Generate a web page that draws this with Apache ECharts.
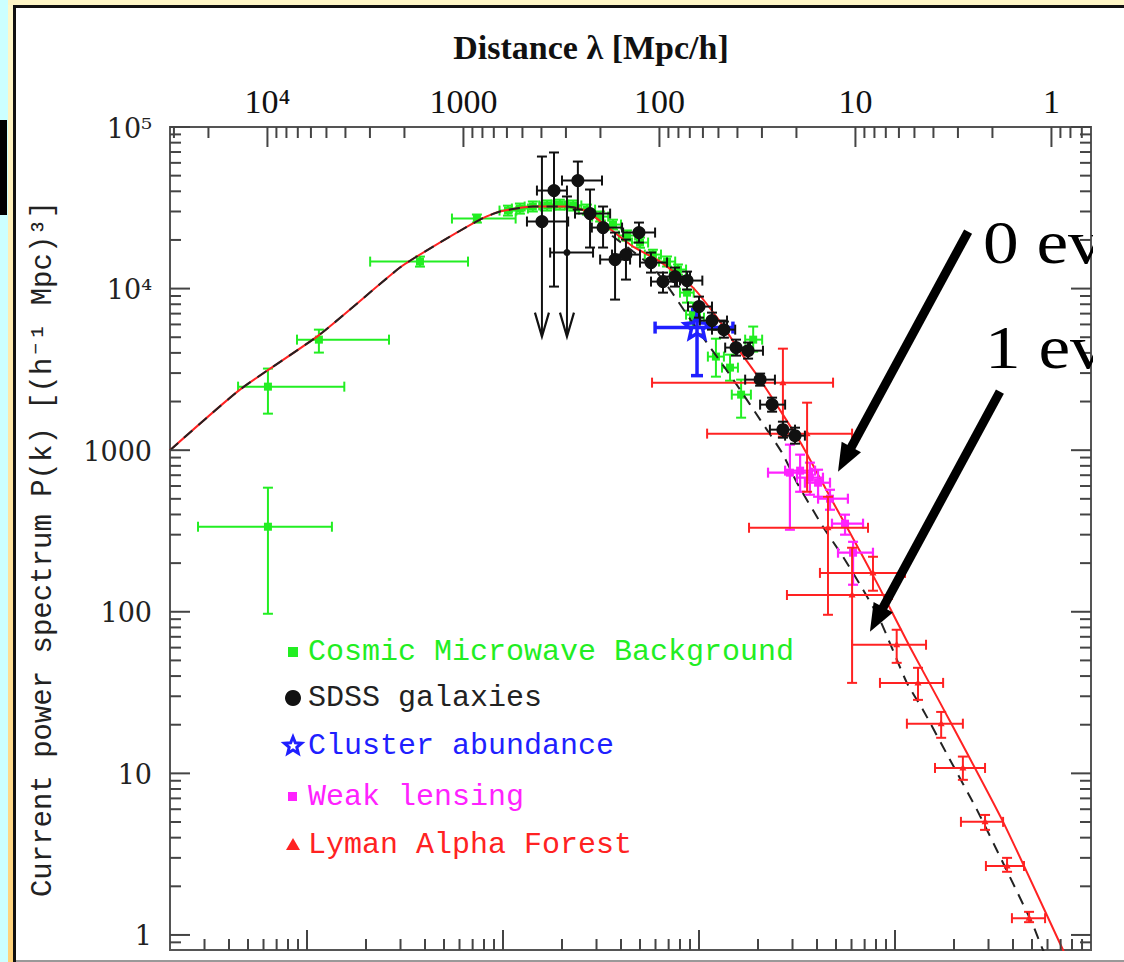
<!DOCTYPE html>
<html><head><meta charset="utf-8">
<script src="https://cdn.jsdelivr.net/npm/echarts@6/dist/echarts.min.js"></script>
<style>html,body{margin:0;padding:0;background:#fff;}#c{width:1124px;height:962px;}</style>
</head><body><div id="c"></div>
<script>
// ---------- axis ranges (k in h/Mpc, P in (Mpc/h)^3) ----------
const X_MIN = 2e-4, X_MAX = 10, Y_MIN = 0.807, Y_MAX = 1e5;
const TWO_PI = 2 * Math.PI;

// ---------- tick values / labels ----------
const kMajorTicks = [0.001, 0.01, 0.1, 1];
const kDecades = [1e-4, 1e-3, 1e-2, 1e-1, 1];
const minorMultipliers = [2, 3, 4, 5, 6, 7, 8, 9];
const lambdaMajorTicks = [10000, 1000, 100, 10, 1];
const lambdaTickLabels = ['10\u2074', '1000', '100', '10', '1'];
const lambdaDecades = [0.1, 1, 10, 100, 1000, 10000];
const pMajorTicks = [1, 10, 100, 1000, 10000, 100000];
const pTickLabels = ['1', '10', '100', '1000', '10\u2074', '10\u2075'];
const pDecades = [0.1, 1, 10, 100, 1000, 10000];

// ---------- model curves [k, P] ----------
const curve0eV = [
  [2.0e-4, 1000], [4.55e-4, 2370], [1.16e-3, 5190], [2.98e-3, 13490], [4.40e-3, 18200],
  [7.63e-3, 26740], [9.66e-3, 29980], [1.42e-2, 32200], [2.12e-2, 32200], [2.68e-2, 30000],
  [3.39e-2, 24200], [4.61e-2, 18200], [6.33e-2, 14700], [9.32e-2, 10140], [0.128, 6250],
  [0.162, 4074], [0.205, 2733], [0.268, 1660], [0.339, 1051], [0.466, 515], [0.589, 308],
  [0.809, 151], [1.19, 60.7], [1.70, 27.3], [3.56, 5.01], [7.20, 0.807], [8.29, 0.565]
];
const curve1eV = [
  [2.0e-4, 1000], [4.55e-4, 2370], [1.16e-3, 5190], [2.98e-3, 13490], [4.40e-3, 18200],
  [7.63e-3, 26740], [9.66e-3, 29980], [1.42e-2, 32200], [2.12e-2, 32200], [2.68e-2, 30000],
  [3.39e-2, 22540], [4.61e-2, 16950], [5.82e-2, 13490], [7.11e-2, 9860], [8.69e-2, 6900],
  [0.105, 4970], [0.133, 3340], [0.162, 2370], [0.205, 1545], [0.265, 965], [0.316, 629],
  [0.429, 336], [0.543, 219], [0.687, 137], [0.838, 89], [1.15, 36.3], [1.39, 24.7],
  [1.91, 12.1], [2.62, 5.94], [3.56, 2.79], [5.06, 1.15], [5.69, 0.807], [6.55, 0.607]
];

// ---------- data points [k, P, kLo, kHi, PLo, PHi] ----------
const cmbData = [
  [6.32e-4, 336, 2.78e-4, 1.34e-3, 97.2, 586],
  [6.32e-4, 2473, 4.45e-4, 1.55e-3, 1683, 3199],
  [1.15e-3, 4832, 8.89e-4, 2.62e-3, 4017, 5572],
  [3.77e-3, 14690, 2.10e-3, 6.63e-3, 13680, 15780],
  [7.36e-3, 27130, 5.49e-3, 1.16e-2, 25620, 28730],
  [0.0106, 30400, 0.0096, 0.0117, 28300, 32600],
  [0.0122, 31300, 0.0111, 0.0134, 29100, 33600],
  [0.0142, 32200, 0.0129, 0.0156, 30000, 34600],
  [0.0168, 32700, 0.0153, 0.0185, 30400, 35100],
  [0.0195, 33100, 0.0177, 0.0215, 30800, 35500],
  [0.0228, 32700, 0.0207, 0.0251, 30400, 35100],
  [0.0268, 30800, 0.0244, 0.0295, 28700, 33100],
  [0.0313, 27900, 0.0285, 0.0344, 26000, 30000],
  [0.0364, 24900, 0.0331, 0.0400, 23200, 26700],
  [0.0429, 21300, 0.0390, 0.0472, 19800, 22900],
  [0.0500, 19270, 0.0455, 0.0550, 17900, 20700],
  [0.0582, 16240, 0.0529, 0.0640, 15100, 17400],
  [0.0687, 14700, 0.0625, 0.0756, 13700, 15800],
  [0.0781, 13120, 0.0710, 0.0859, 12200, 14100],
  [0.0869, 9440, 0.0800, 0.0940, 8190, 10900],
  [0.0932, 6900, 0.0859, 0.101, 5821, 8190],
  [0.0977, 6610, 0.0900, 0.106, 5737, 7630],
  [0.122, 3795, 0.111, 0.134, 2851, 4898],
  [0.144, 3243, 0.131, 0.158, 2692, 3900],
  [0.189, 4832, 0.172, 0.210, 4074, 5821],
  [0.164, 2207, 0.147, 0.184, 1589, 2733]
];
const sdssData = [
  [0.0158, 26000, 0.01325, 0.0215, 5043, 65640],
  [0.0182, 40430, 0.0149, 0.0212, 10290, 69550],
  [0.0212, 16710, 0.0174, 0.0288, 5043, 37150],
  [0.0241, 46650, 0.0200, 0.0320, 30830, 61120],
  [0.0278, 29120, 0.0233, 0.0352, 17950, 41020],
  [0.0324, 23860, 0.0284, 0.0405, 17950, 32200],
  [0.0373, 15130, 0.0313, 0.0445, 8550, 22220],
  [0.0424, 16240, 0.0360, 0.0500, 11370, 20110],
  [0.0494, 22220, 0.0410, 0.0597, 19270, 25620],
  [0.0569, 14490, 0.0500, 0.0687, 12560, 16710],
  [0.0655, 11050, 0.0569, 0.0772, 9440, 12560],
  [0.0754, 11870, 0.0655, 0.0900, 10290, 13490],
  [0.0869, 11210, 0.0800, 0.104, 9860, 12740],
  [0.100, 7740, 0.0879, 0.1165, 6610, 8920],
  [0.1165, 6340, 0.101, 0.139, 5572, 7100],
  [0.134, 5572, 0.1165, 0.153, 4970, 6250],
  [0.1545, 4314, 0.136, 0.182, 3848, 4832],
  [0.178, 4130, 0.156, 0.212, 3688, 4634],
  [0.205, 2733, 0.172, 0.244, 2508, 2978],
  [0.236, 1914, 0.205, 0.275, 1731, 2114],
  [0.268, 1340, 0.230, 0.309, 1195, 1501],
  [0.309, 1230, 0.275, 0.347, 1097, 1378]
];
const sdssUpperLimit = [true, false, true, false, false, false, false, false, false, false, false,
  false, false, false, false, false, false, false, false, false, false, false];
const sdssSmallDot = [false, false, true, false, false, false, false, false, false, false, false,
  false, false, false, false, false, false, false, false, false, false, false];
const clusterData = [
  [0.0977, 5737, 0.0597, 0.149, 2893, 7413]
];
const lensingData = [
  [0.291, 726, 0.225, 0.377, 322, 1082],
  [0.328, 747, 0.275, 0.391, 553, 938],
  [0.368, 676, 0.316, 0.429, 530, 837],
  [0.405, 629, 0.347, 0.466, 515, 757],
  [0.466, 501, 0.405, 0.575, 428, 569],
  [0.556, 351, 0.477, 0.687, 300, 399],
  [0.611, 232, 0.512, 0.772, 147, 271]
];
const lymanData = [
  [0.268, 2618, 0.0576, 0.483, 1213, 4249],
  [0.356, 1266, 0.110, 0.604, 553, 1968],
  [0.455, 331, 0.180, 0.728, 95.8, 515],
  [0.772, 174, 0.414, 1.125, 135, 219],
  [0.604, 127, 0.281, 0.965, 36.3, 249],
  [1.02, 62.5, 0.604, 1.44, 48.3, 77.4],
  [1.31, 36.3, 0.838, 1.76, 28.5, 45.0],
  [1.72, 20.3, 1.15, 2.22, 16.6, 24.0],
  [2.22, 10.8, 1.60, 2.88, 9.12, 12.7],
  [2.88, 5.01, 2.17, 3.56, 4.47, 5.53],
  [3.73, 2.67, 2.91, 4.55, 2.46, 3.00],
  [4.83, 1.27, 3.95, 5.83, 1.20, 1.39]
];
// annotation arrows [kTail, PTail, kTip, PTip]
const arrowData = [
  [2.36, 22540, 0.512, 736],
  [3.43, 2302, 0.745, 75.2]
];
const arrowLabels = ['0 ev', '1 ev'];
const legendLabels = ['Cosmic Microwave Background', 'SDSS galaxies', 'Cluster abundance', 'Weak lensing', 'Lyman Alpha Forest'];

// ---------- colours / fonts ----------
const GREEN = '#22ee22', BLACK = '#111111', BLUE = '#1f1fff', MAGENTA = '#ff22ff', RED = '#ff2222';
const MONO = '"Liberation Mono", "DejaVu Sans Mono", monospace';
const SERIF = '"Liberation Serif", "DejaVu Serif", serif';

function starPoints(cx, cy, R, r) {
  const pts = [];
  for (let i = 0; i < 10; i++) {
    const a = -Math.PI / 2 + i * Math.PI / 5;
    const rad = i % 2 ? r : R;
    pts.push([cx + rad * Math.cos(a), cy + rad * Math.sin(a)]);
  }
  return pts;
}

function errSeries(name, data, st) {
  return {
    type: 'custom', name: name, data: data, z: st.z || 3, clip: false,
    renderItem: function (params, api) {
      const c = api.coord([api.value(0), api.value(1)]);
      const xl = api.coord([api.value(2), api.value(1)]);
      const xh = api.coord([api.value(3), api.value(1)]);
      const yl = api.coord([api.value(0), api.value(4)]);
      const yh = api.coord([api.value(0), api.value(5)]);
      const s = { stroke: st.color, lineWidth: st.lw, fill: null };
      const h = st.cap;
      const ch = [];
      ch.push({ type: 'line', shape: { x1: xl[0], y1: c[1], x2: xh[0], y2: c[1] }, style: s });
      ch.push({ type: 'line', shape: { x1: c[0], y1: yh[1], x2: c[0], y2: yl[1] }, style: s });
      ch.push({ type: 'line', shape: { x1: xl[0], y1: c[1] - h, x2: xl[0], y2: c[1] + h }, style: s });
      ch.push({ type: 'line', shape: { x1: xh[0], y1: c[1] - h, x2: xh[0], y2: c[1] + h }, style: s });
      ch.push({ type: 'line', shape: { x1: c[0] - h, y1: yh[1], x2: c[0] + h, y2: yh[1] }, style: s });
      const lim = st.limits && st.limits[params.dataIndex];
      if (lim) {
        ch.push({ type: 'polyline', shape: { points: [[c[0] - 7, yl[1] - 24], [c[0], yl[1]], [c[0] + 7, yl[1] - 24]] }, style: { stroke: st.color, lineWidth: 2.2, fill: null } });
      } else {
        ch.push({ type: 'line', shape: { x1: c[0] - h, y1: yl[1], x2: c[0] + h, y2: yl[1] }, style: s });
      }
      const small = st.small && st.small[params.dataIndex];
      if (st.marker === 'circle') {
        ch.push({ type: 'circle', shape: { cx: c[0], cy: c[1], r: small ? 3.5 : 6.5 }, style: { fill: st.color } });
      } else if (st.marker === 'square') {
        ch.push({ type: 'rect', shape: { x: c[0] - 4, y: c[1] - 4, width: 8, height: 8 }, style: { fill: st.color } });
      } else if (st.marker === 'triangle') {
        ch.push({ type: 'polygon', shape: { points: [[c[0], c[1] - 4], [c[0] - 3.5, c[1] + 2.5], [c[0] + 3.5, c[1] + 2.5]] }, style: { fill: st.color } });
      } else if (st.marker === 'star') {
        ch.push({ type: 'polygon', shape: { points: starPoints(c[0], c[1], 13, 6) }, style: { fill: 'rgba(255,255,255,0)', stroke: st.color, lineWidth: 3.5 } });
      }
      return { type: 'group', children: ch };
    }
  };
}

// ---------- axis tick specs ----------
const ticks = [];
kMajorTicks.forEach(k => ticks.push({ side: 'bottom', x: k, y: Y_MIN, major: true }));
kDecades.forEach(d => minorMultipliers.forEach(m => { const k = m * d; if (k > X_MIN * 1.001 && k < X_MAX) ticks.push({ side: 'bottom', x: k, y: Y_MIN, major: false }); }));
lambdaMajorTicks.forEach((l, i) => ticks.push({ side: 'top', x: TWO_PI / l, y: Y_MAX, major: true, label: lambdaTickLabels[i] }));
lambdaDecades.forEach(d => minorMultipliers.forEach(m => { const k = TWO_PI / (m * d); if (k > X_MIN * 1.001 && k < X_MAX * 0.999) ticks.push({ side: 'top', x: k, y: Y_MAX, major: false }); }));
pMajorTicks.forEach((p, i) => {
  ticks.push({ side: 'left', x: X_MIN, y: p, major: true, label: pTickLabels[i] });
  ticks.push({ side: 'right', x: X_MAX, y: p, major: true });
});
pDecades.forEach(d => minorMultipliers.forEach(m => { const p = m * d; if (p > Y_MIN * 1.001 && p < Y_MAX) { ticks.push({ side: 'left', x: X_MIN, y: p, major: false }); ticks.push({ side: 'right', x: X_MAX, y: p, major: false }); } }));

const tickSeries = {
  type: 'custom', name: 'ticks', z: 6, clip: false, silent: true,
  data: ticks.map(t => [t.x, t.y]),
  renderItem: function (params, api) {
    const t = ticks[params.dataIndex];
    const p = api.coord([api.value(0), api.value(1)]);
    const L = t.major ? 20 : 11;
    let x2 = p[0], y2 = p[1];
    if (t.side === 'bottom') y2 = p[1] - L;
    else if (t.side === 'top') y2 = p[1] + L;
    else if (t.side === 'left') x2 = p[0] + L;
    else x2 = p[0] - L;
    const ch = [{ type: 'line', shape: { x1: p[0], y1: p[1], x2: x2, y2: y2 }, style: { stroke: '#444', lineWidth: 2 } }];
    if (t.label && t.side === 'top') {
      ch.push({ type: 'text', x: p[0], y: p[1] - 26, style: { text: t.label, font: '34px ' + SERIF, fill: '#111', align: 'center', verticalAlign: 'middle' } });
    }
    if (t.label && t.side === 'left') {
      ch.push({ type: 'text', x: p[0] - 18, y: p[1] + 1, style: { text: t.label, font: '27px "DejaVu Serif", serif', fill: '#222', align: 'right', verticalAlign: 'middle' } });
    }
    return { type: 'group', children: ch };
  }
};

const arrowSeries = {
  type: 'custom', name: 'arrows', z: 8, clip: false, silent: true,
  data: arrowData,
  renderItem: function (params, api) {
    const a = api.coord([api.value(0), api.value(1)]);
    const b = api.coord([api.value(2), api.value(3)]);
    const dx = b[0] - a[0], dy = b[1] - a[1];
    const len = Math.sqrt(dx * dx + dy * dy);
    const ux = dx / len, uy = dy / len;
    const HL = 28, HW = 11;
    const bx = b[0] - ux * HL, by = b[1] - uy * HL;
    return {
      type: 'group', children: [
        { type: 'line', shape: { x1: a[0], y1: a[1], x2: bx + ux * 4, y2: by + uy * 4 }, style: { stroke: '#000', lineWidth: 9 } },
        { type: 'polygon', shape: { points: [[b[0], b[1]], [bx - uy * HW, by + ux * HW], [bx + uy * HW, by - ux * HW]] }, style: { fill: '#000' } }
      ]
    };
  }
};

// ---------- legend graphics ----------
const legendRows = [652, 698, 746, 797, 845];
const legendColors = [GREEN, '#222', BLUE, MAGENTA, RED];
const legendX = 293;
const graphics = [
  { type: 'rect', z: 0, shape: { x: 0, y: 0, width: 8, height: 962 }, style: { fill: '#ccffff' } },
  { type: 'rect', z: 0, shape: { x: 8, y: 0, width: 6, height: 962 }, style: { fill: { type: 'linear', x: 0, y: 0, x2: 0, y2: 1, colorStops: [{ offset: 0, color: '#fff8cc' }, { offset: 1, color: '#ffd27a' }] } } },
  { type: 'rect', z: 0, shape: { x: 8, y: 0, width: 1116, height: 5 }, style: { fill: '#fff6c6' } },
  { type: 'rect', z: 0, shape: { x: 13, y: 5, width: 1111, height: 3 }, style: { fill: '#111' } },
  { type: 'rect', z: 0, shape: { x: 13, y: 5, width: 3, height: 957 }, style: { fill: '#111' } },
  { type: 'rect', z: 0, shape: { x: 0, y: 120, width: 7, height: 95 }, style: { fill: '#000' } },
  { type: 'rect', z: 0, shape: { x: 16, y: 960, width: 1108, height: 2 }, style: { fill: '#999' } },
  { type: 'text', z: 10, x: 591, y: 47, style: { text: 'Distance \u03bb [Mpc/h]', font: 'bold 34px ' + SERIF, fill: '#111', align: 'center', verticalAlign: 'middle' } },
  { type: 'text', z: 10, x: 43, y: 549, rotation: Math.PI / 2, style: { text: 'Current power spectrum P(k) [(h\u207b\u00b9 Mpc)\u00b3]', font: '29px ' + MONO, fill: '#222', align: 'center', verticalAlign: 'middle' } },
  { type: 'text', z: 10, x: 983, y: 242, scaleX: 1.15, style: { text: arrowLabels[0], font: '62px ' + SERIF, fill: '#000', align: 'left', verticalAlign: 'middle' } },
  { type: 'text', z: 10, x: 985, y: 347, scaleX: 1.15, style: { text: arrowLabels[1], font: '62px ' + SERIF, fill: '#000', align: 'left', verticalAlign: 'middle' } },
  { type: 'rect', z: 20, shape: { x: 1093, y: 190, width: 31, height: 220 }, style: { fill: '#fff' } },
  // legend markers
  { type: 'rect', z: 10, shape: { x: legendX - 5, y: legendRows[0] - 5, width: 10, height: 10 }, style: { fill: GREEN } },
  { type: 'circle', z: 10, shape: { cx: legendX, cy: legendRows[1], r: 8 }, style: { fill: '#111' } },
  { type: 'polygon', z: 10, shape: { points: starPoints(legendX, legendRows[2], 9, 4) }, style: { fill: '#fff', stroke: BLUE, lineWidth: 3 } },
  { type: 'rect', z: 10, shape: { x: legendX - 5, y: legendRows[3] - 5, width: 9, height: 9 }, style: { fill: MAGENTA } },
  { type: 'polygon', z: 10, shape: { points: [[legendX, legendRows[4] - 7], [legendX - 7, legendRows[4] + 5], [legendX + 7, legendRows[4] + 5]] }, style: { fill: RED } }
];
legendLabels.forEach((t, i) => graphics.push({ type: 'text', z: 10, x: 308, y: legendRows[i], style: { text: t, font: '30px ' + MONO, fill: legendColors[i], align: 'left', verticalAlign: 'middle' } }));

const chart = echarts.init(document.getElementById('c'), null, { renderer: 'svg', width: 1124, height: 962 });
chart.setOption({
  animation: false,
  backgroundColor: '#ffffff',
  grid: { left: 170, top: 127, right: 33, bottom: 12, show: true, borderColor: '#555', borderWidth: 2, backgroundColor: 'rgba(0,0,0,0)' },
  xAxis: { type: 'log', logBase: 10, min: X_MIN, max: X_MAX, axisLine: { show: false }, axisTick: { show: false }, axisLabel: { show: false }, splitLine: { show: false } },
  yAxis: { type: 'log', logBase: 10, min: Y_MIN, max: Y_MAX, axisLine: { show: false }, axisTick: { show: false }, axisLabel: { show: false }, splitLine: { show: false } },
  series: [
    errSeries('Cosmic Microwave Background', cmbData, { color: GREEN, lw: 2, cap: 5, marker: 'square', z: 2 }),
    { type: 'line', name: '0 eV', data: curve0eV, z: 3, showSymbol: false, smooth: 0.2, lineStyle: { color: RED, width: 2 } },
    { type: 'line', name: '1 eV', data: curve1eV, z: 3, showSymbol: false, smooth: 0.2, lineStyle: { color: '#222', width: 2, type: [11, 8] } },
    errSeries('Cluster abundance', clusterData, { color: BLUE, lw: 3.5, cap: 6, marker: 'star', z: 4 }),
    errSeries('Weak lensing', lensingData, { color: MAGENTA, lw: 2.2, cap: 5, marker: 'square', z: 4 }),
    errSeries('Lyman Alpha Forest', lymanData, { color: RED, lw: 2, cap: 5, marker: 'triangle', z: 4 }),
    errSeries('SDSS galaxies', sdssData, { color: BLACK, lw: 2, cap: 5, marker: 'circle', limits: sdssUpperLimit, small: sdssSmallDot, z: 5 }),
    tickSeries,
    arrowSeries
  ],
  graphic: graphics
});
</script></body></html>
